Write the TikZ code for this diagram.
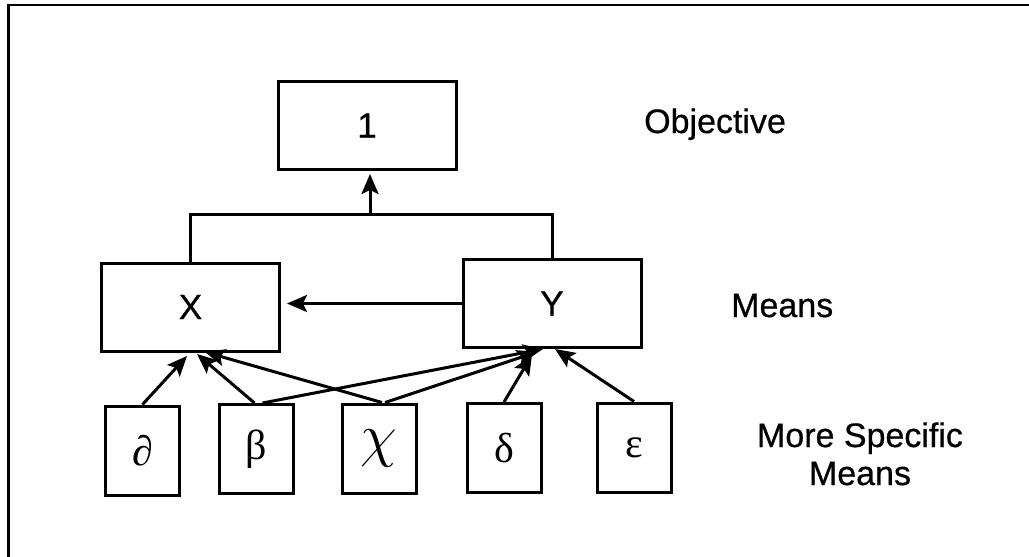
\documentclass[tikz,border=0pt]{standalone}
\usepackage{fontspec}
\usepackage{graphicx}
\setmainfont{Liberation Sans}[FakeBold=0.6]
\newfontfamily\grk{Liberation Serif}
\usetikzlibrary{arrows.meta}
\begin{document}
\begin{tikzpicture}[x=1pt,y=-1pt,
  box/.style={draw,line width=3pt,minimum width=178pt,minimum height=88pt,inner sep=0pt,font=\fontsize{35}{38}\selectfont},
  small/.style={draw,line width=3pt,minimum width=74pt,minimum height=89pt,inner sep=0pt,font=\grk\fontsize{42}{44}\selectfont},
  lbl/.style={font=\fontsize{34}{38}\selectfont,inner sep=0pt,align=center},
  conn/.style={line width=3pt},
  arr/.style={line width=3pt,-{Stealth[length=20pt,width=17pt,inset=4pt]}}]
\useasboundingbox (0,0) rectangle (1029,557);
\draw[line width=2.6pt] (8.5,557) -- (8.5,5) -- (1029,5);
% main boxes
\node[box] (one) at (367,125.5) {1};
\node[box] (X) at (190.5,307) {X};
\node[box] (Y) at (552,303.5) {Y};
% small boxes
\node[small] (d) at (142.5,450.5) {∂};
\node[small] (b) at (256.5,449) {β};
\node[small] (c) at (379,448.5) {\scalebox{2.4}{$\chi$}};
\node[small] (e) at (504,448) {δ};
\node[small] (f) at (634,447.5) {ε};
% labels
\node[lbl,anchor=base west] (lobj) at (644,133) {Objective};
\node[lbl,anchor=base west] (lmeans) at (731,317) {Means};
\node[lbl,anchor=base] (lmsm) at (860,447) {More Specific};
\node[lbl,anchor=base] (lmsm2) at (860,485) {Means};
% coordinates
\coordinate (j) at (370,214);
\coordinate (jt) at (370,174);
\coordinate (xt) at (287,303.5);
\coordinate (xa) at (187,356);
\coordinate (xb) at (197,354);
\coordinate (xc) at (205,352);
\coordinate (ya) at (543,349);
\coordinate (yb) at (537,352);
\coordinate (yc) at (532,355);
\coordinate (yd) at (555,349);
% connectors
\draw[conn] (X.north) |- (j) -| (Y.north);
\draw[arr] (j) -- (jt);
\draw[arr] (Y.west) -- (xt);
\draw[arr] (d.north) -- (xa);
\draw[arr] ([xshift=-2pt]b.north) -- (xb);
\draw[arr] ([xshift=3pt]c.north) -- (xc);
\draw[arr] ([xshift=6pt]b.north) -- (ya);
\draw[arr] ([xshift=6pt]c.north) -- (yb);
\draw[arr] (e.north) -- (yc);
\draw[arr] (f.north) -- (yd);
\end{tikzpicture}
\end{document}
